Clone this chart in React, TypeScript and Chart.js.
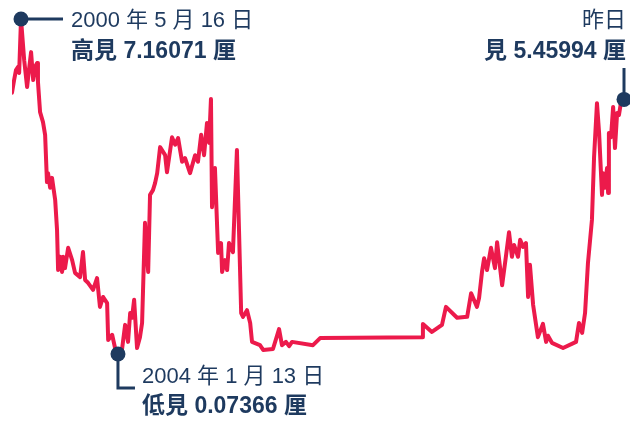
import React, { useEffect, useRef } from "react";
import { Chart, registerables } from "chart.js";

Chart.register(...registerables);

// decimal years
const dates: number[] = [
  2000.03, 2000.11, 2000.18, 2000.26, 2000.30, 2000.37, 2000.49, 2000.60, 2000.67, 2000.75,
  2000.83, 2000.90, 2000.98, 2001.01, 2001.09, 2001.20, 2001.28, 2001.35, 2001.39, 2001.47,
  2001.54, 2001.66, 2001.73, 2001.77, 2001.84, 2001.92, 2001.96, 2002.03, 2002.15, 2002.30,
  2002.41, 2002.60, 2002.71, 2002.79, 2002.90, 2003.09, 2003.24, 2003.35, 2003.47, 2003.62,
  2003.66, 2003.81, 2003.92, 2004.03, 2004.18, 2004.30, 2004.41, 2004.49, 2004.56, 2004.64,
  2004.75, 2004.86, 2004.94, 2005.05, 2005.09, 2005.17, 2005.24, 2005.35, 2005.43, 2005.51,
  2005.62, 2005.81, 2005.88, 2006.07, 2006.19, 2006.30, 2006.45, 2006.56, 2006.75, 2006.94,
  2007.05, 2007.17, 2007.28, 2007.39, 2007.47, 2007.54, 2007.58, 2007.69, 2007.81, 2007.92,
  2007.96, 2008.07, 2008.15, 2008.22, 2008.37, 2008.52, 2008.68, 2008.75, 2008.90, 2009.02,
  2009.09, 2009.39, 2009.51, 2009.88, 2010.11, 2010.22, 2010.37, 2010.49, 2010.60, 2011.39,
  2011.66, 2015.51, 2015.54, 2015.88, 2016.26, 2016.41, 2016.83, 2017.21, 2017.36, 2017.58,
  2017.66, 2017.77, 2017.85, 2017.96, 2018.11, 2018.26, 2018.34, 2018.53, 2018.68, 2018.79,
  2018.90, 2018.98, 2019.13, 2019.21, 2019.32, 2019.43, 2019.51, 2019.58, 2019.70, 2019.88,
  2020.07, 2020.19, 2020.26, 2020.41, 2020.83, 2021.32, 2021.43, 2021.55, 2021.66, 2021.77,
  2021.92, 2022.00, 2022.11, 2022.19, 2022.30, 2022.34, 2022.41, 2022.49, 2022.53, 2022.56,
  2022.64, 2022.72, 2022.79, 2022.87, 2022.94, 2023.02, 2023.13,
];

const rates: number[] = [
  5.60, 5.87, 6.08, 6.15, 6.02, 7.16071, 6.29, 5.72, 6.08, 6.46,
  5.87, 6.15, 6.23, 5.83, 5.19, 4.98, 4.71, 3.71, 3.90, 3.59,
  3.80, 3.33, 2.70, 1.85, 2.13, 1.81, 2.13, 1.89, 2.32, 2.06,
  1.79, 1.70, 2.23, 1.64, 1.58, 1.43, 1.68, 1.07, 1.28, 1.15,
  0.37, 0.48, 0.20, 0.07366, 0.16, 0.69, 0.33, 0.94, 0.84, 1.22,
  0.20, 0.43, 0.73, 2.85, 2.49, 1.81, 3.44, 3.54, 3.69, 3.90,
  4.45, 4.28, 3.92, 4.66, 4.50, 4.64, 4.14, 4.22, 3.90, 4.28,
  4.14, 4.71, 4.28, 4.96, 4.54, 5.47, 3.18, 4.01, 2.21, 2.42,
  1.81, 2.06, 1.85, 2.42, 2.23, 4.39, 0.94, 0.86, 1.00, 0.73,
  0.33, 0.26, 0.16, 0.18, 0.60, 0.26, 0.33, 0.24, 0.33, 0.26,
  0.41, 0.43, 0.71, 0.54, 0.69, 1.07, 0.84, 0.86, 1.36, 1.07,
  1.26, 1.81, 2.10, 1.85, 2.32, 1.89, 2.44, 1.53, 2.17, 2.65,
  2.13, 2.38, 2.13, 2.49, 2.34, 2.42, 1.28, 1.96, 1.11, 0.43,
  0.71, 0.33, 0.46, 0.31, 0.20, 0.33, 0.73, 0.52, 0.94, 2.00,
  2.91, 4.24, 5.38, 4.75, 3.44, 3.90, 3.59, 4.01, 3.48, 4.75,
  4.66, 5.30, 4.43, 5.17, 5.13, 5.41, 5.45994,
];

const highDate = "2000 年 5 月 16 日";
const highLabel = "高見 7.16071 厘";
const lowDate = "2004 年 1 月 13 日";
const lowLabel = "低見 0.07366 厘";
const lastDate = "昨日";
const lastLabel = "見 5.45994 厘";

const LINE = "#ec1a4b";
const NAVY = "#1e3a5f";
const FONT = "'Liberation Sans', 'Noto Sans CJK TC', sans-serif";

const annotate = {
  id: "annotate",
  afterDraw(chart: any) {
    const ctx = chart.ctx;
    const xs = chart.scales.x;
    const ys = chart.scales.y;
    const hiI = rates.indexOf(Math.max(...rates));
    const loI = rates.indexOf(Math.min(...rates));
    const laI = rates.length - 1;
    const hx = xs.getPixelForValue(dates[hiI]);
    const hy = ys.getPixelForValue(rates[hiI]);
    const lx = xs.getPixelForValue(dates[loI]);
    const ly = ys.getPixelForValue(rates[loI]);
    const ex = xs.getPixelForValue(dates[laI]);
    const ey = ys.getPixelForValue(rates[laI]);
    ctx.save();
    ctx.strokeStyle = NAVY;
    ctx.fillStyle = NAVY;
    ctx.lineWidth = 3;
    ctx.lineCap = "butt";
    // high
    ctx.beginPath();
    ctx.moveTo(hx, hy);
    ctx.lineTo(hx + 42, hy);
    ctx.stroke();
    // low
    ctx.beginPath();
    ctx.moveTo(lx, ly);
    ctx.lineTo(lx, ly + 34);
    ctx.lineTo(lx + 17, ly + 34);
    ctx.stroke();
    // last
    ctx.beginPath();
    ctx.moveTo(ex, ey);
    ctx.lineTo(ex, 68);
    ctx.stroke();
    for (const [px, py] of [[hx, hy], [lx, ly], [ex, ey]]) {
      ctx.beginPath();
      ctx.arc(px, py, 7.5, 0, Math.PI * 2);
      ctx.fill();
    }
    ctx.textBaseline = "alphabetic";
    ctx.textAlign = "left";
    ctx.font = `22px ${FONT}`;
    ctx.fillText(highDate, 71, 27);
    ctx.fillText(lowDate, 142, 383);
    ctx.font = `bold 23px ${FONT}`;
    ctx.fillText(highLabel, 71, 58);
    ctx.fillText(lowLabel, 142, 413);
    ctx.textAlign = "right";
    ctx.font = `22px ${FONT}`;
    ctx.fillText(lastDate, 626, 27);
    ctx.font = `bold 23px ${FONT}`;
    ctx.fillText(lastLabel, 626, 58);
    ctx.restore();
  },
};

export default function App() {
  const ref = useRef<HTMLCanvasElement>(null);
  useEffect(() => {
    if (!ref.current) return;
    const chart = new Chart(ref.current, {
      type: "line",
      data: {
        datasets: [
          {
            data: dates.map((d, i) => ({ x: d, y: rates[i] })),
            borderColor: LINE,
            borderWidth: 4,
            pointRadius: 0,
            tension: 0,
            borderJoinStyle: "round",
            borderCapStyle: "round",
            fill: false,
          },
        ],
      },
      options: {
        responsive: false,
        animation: false,
        layout: { padding: { left: 12, right: 6, top: 19, bottom: 71 } },
        plugins: { legend: { display: false }, tooltip: { enabled: false } },
        scales: {
          x: { type: "linear", display: false, min: dates[0], max: dates[dates.length - 1] },
          y: { display: false, min: Math.min(...rates), max: Math.max(...rates) },
        },
      },
      plugins: [annotate],
    });
    return () => chart.destroy();
  }, []);
  return (
    <canvas
      ref={ref}
      width={630}
      height={425}
      style={{ position: "fixed", left: 0, top: 0, width: 630, height: 425 }}
    />
  );
}
